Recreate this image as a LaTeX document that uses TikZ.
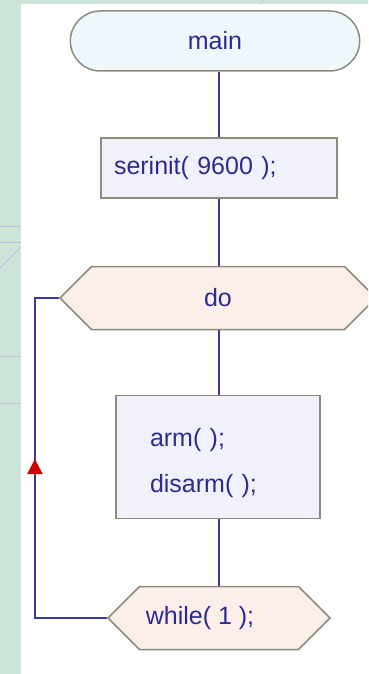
\documentclass[tikz,border=0pt]{standalone}
\usepackage{fontspec}
\setmainfont{Liberation Sans}
\usetikzlibrary{shapes.misc,shapes.symbols,arrows.meta,decorations.markings}

\definecolor{bggreen}{HTML}{CDE5D9}
\definecolor{deco}{HTML}{BDBDEA}
\definecolor{edgegray}{HTML}{8C8C7A}
\definecolor{linkblue}{HTML}{3A3A96}
\definecolor{txtblue}{HTML}{2C2C8E}
\definecolor{termfill}{HTML}{EEF7FB}
\definecolor{procfill}{HTML}{F1F1FB}
\definecolor{loopfill}{HTML}{FCEFE9}
\definecolor{arrowred}{HTML}{CC0000}

\tikzset{>=Latex,every node/.style={font=\fontsize{25}{30}\selectfont,text=txtblue}}
\tikzset{
  term/.style={rounded rectangle,draw=edgegray,line width=1.5pt,fill=termfill,minimum width=296pt,minimum height=60pt},
  proc/.style={rectangle,draw=edgegray,line width=1.5pt,fill=procfill,align=left},
  loopbox/.style={signal,signal to=east and west,signal pointer angle=90,draw=edgegray,line width=1.5pt,fill=loopfill,minimum height=63pt},
  link/.style={draw=linkblue,line width=2pt}
}

\begin{document}
\begin{tikzpicture}[x=1pt,y=-1pt]
    \useasboundingbox (0,0) rectangle (368,674);
    \clip (0,0) rectangle (368,674);
    % slide background
    \fill[bggreen] (0,0) rectangle (368,674);
    \fill[white] (21,4) rectangle (368,674);
    \foreach \y in {226,242,356,403}{
        \draw[deco,line width=1pt] (0,\y) -- (21,\y);
    }
    \draw[deco,line width=1pt] (0,268) -- (21,247);
    \draw[deco,line width=1pt] (264,0) -- (260,4);

    % flowchart
    \node[term] (main) at (215,41) {main};
    \node[proc,minimum width=236pt,minimum height=60pt,text width=210pt,inner xsep=13pt] (ser) at (219,168) {serinit( 9600 );};
    \node[loopbox,minimum width=316pt] (do) at (218,298) {do};
    \node[proc,minimum width=204pt,minimum height=123pt,text width=136pt,inner xsep=34pt,
          font=\fontsize{25}{46}\selectfont] (body) at (218,457) {\rule{0pt}{31pt}arm( );\\disarm( );};
    \node[loopbox,minimum width=222pt] (wh) at (219,618) {while( 1 );\hspace*{38pt}};

    \draw[link] (main.south -| ser.north) -- (ser.north);
    \draw[link] (ser.south) -- (do.north -| ser.south);
    \draw[link] (do.south -| ser.south) -- (body.north -| ser.south);
    \draw[link] (body.south -| ser.south) -- (wh.north -| ser.south);
    \draw[link,postaction={decorate},decoration={markings,
          mark=at position 231pt with {\arrow{Triangle[width=15pt,length=15pt,color=arrowred]}}}]
        (wh.west) -- ++(-72,0) |- (do.west);
\end{tikzpicture}
\end{document}
